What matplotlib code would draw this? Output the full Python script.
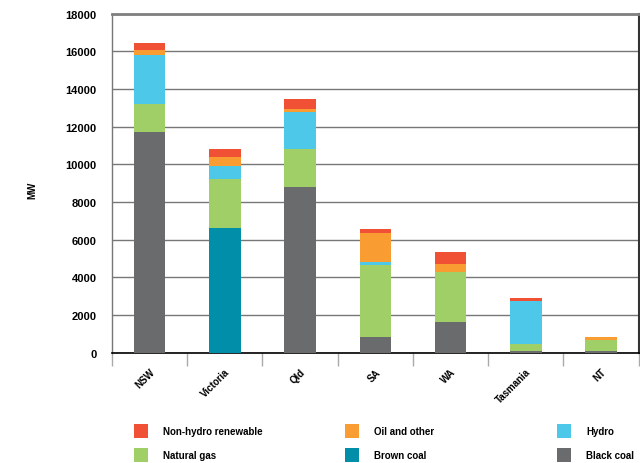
import matplotlib
matplotlib.use("Agg")
import matplotlib.pyplot as plt
from matplotlib.patches import Rectangle
import numpy as np

states = ["NSW", "Victoria", "Qld", "SA", "WA", "Tasmania", "NT"]
black_coal = [11700, 0, 8800, 850, 1600, 80, 80]
brown_coal = [0, 6600, 0, 0, 0, 0, 0]
natural_gas = [1500, 2600, 2000, 3800, 2700, 370, 580]
hydro = [2600, 700, 2000, 180, 0, 2270, 0]
oil_other = [300, 500, 150, 1500, 400, 0, 180]
non_hydro = [330, 400, 550, 220, 650, 180, 0]
yticks = [0, 2000, 4000, 6000, 8000, 10000, 12000, 14000, 16000, 18000]

series = [
    ("Black coal", black_coal, "#6A6B6D"),
    ("Brown coal", brown_coal, "#008EA8"),
    ("Natural gas", natural_gas, "#A0CF67"),
    ("Hydro", hydro, "#4DC8E9"),
    ("Oil and other", oil_other, "#F99D33"),
    ("Non-hydro renewable", non_hydro, "#F05033"),
]

plt.rcParams['font.family'] = ['Liberation Sans', 'DejaVu Sans']

fig = plt.figure(figsize=(6.4, 4.64), dpi=100)
ax = fig.add_axes([0.175, 0.238, 0.823, 0.730])

x = np.arange(len(states))
bottom = np.zeros(len(states))
colors = {}
for name, vals, col in series:
    v = np.array(vals, dtype=float)
    ax.bar(x, v, width=0.42, bottom=bottom, color=col, edgecolor='none', zorder=3)
    bottom += v
    colors[name] = col

ax.set_xlim(-0.5, len(states) - 0.5)
ax.set_ylim(0, 18000)
ax.set_yticks(yticks)
ax.set_yticklabels([str(t) for t in yticks], fontsize=8, fontweight='bold')
ax.tick_params(axis='y', length=0, pad=11)
ax.yaxis.grid(True, color='#777777', linewidth=1.0, zorder=0)
ax.set_axisbelow(True)

ax.set_xticks(x)
ax.set_xticklabels(states, rotation=45, ha='right', rotation_mode='anchor',
                   fontsize=7, fontweight='bold')
ax.tick_params(axis='x', which='major', length=0, pad=10)
ax.set_xticks(np.arange(len(states) + 1) - 0.5, minor=True)
ax.tick_params(axis='x', which='minor', length=9, color='#aaaaaa', width=1)

ax.spines['left'].set_color('#777777')
ax.spines['left'].set_linewidth(1.0)
ax.spines['top'].set_color('#808080')
ax.spines['top'].set_linewidth(2.0)
ax.spines['bottom'].set_color('black')
ax.spines['bottom'].set_linewidth(1.2)
ax.spines['right'].set_color('#333333')
ax.spines['right'].set_linewidth(1.5)

fig.text(0.05, 0.59, "MW", rotation=90, fontsize=7, fontweight='bold',
         ha='center', va='center')

legend_items = [
    ("Non-hydro renewable", 134, 432), ("Oil and other", 345, 432), ("Hydro", 557, 432),
    ("Natural gas", 134, 456), ("Brown coal", 345, 456), ("Black coal", 557, 456),
]
W, H = 640, 464
for name, px, py in legend_items:
    fig.add_artist(Rectangle((px / W, (H - py - 7) / H), 14 / W, 14 / H,
                             transform=fig.transFigure, facecolor=colors[name],
                             edgecolor='none'))
    fig.text((px + 29) / W, (H - py) / H, name, fontsize=7, fontweight='bold',
             ha='left', va='center')

fig.savefig("out.png", dpi=100)
